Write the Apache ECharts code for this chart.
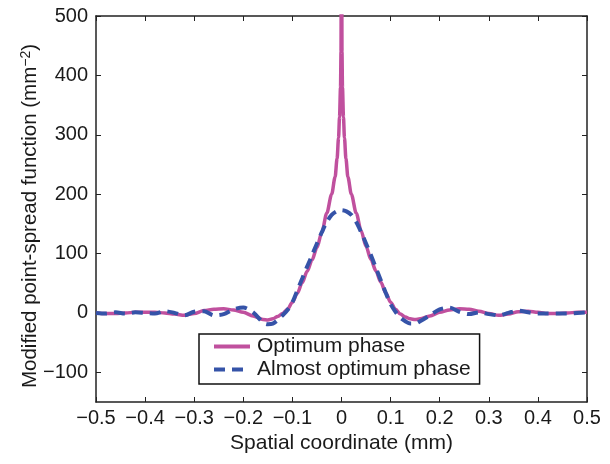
<!DOCTYPE html>
<html>
<head>
<meta charset="utf-8">
<script src="https://cdn.jsdelivr.net/npm/echarts@6/dist/echarts.min.js"></script>
<style>html,body{margin:0;padding:0;background:#fff;}#c{width:610px;height:464px;}</style>
</head>
<body>
<div id="c"></div>
<script>
// Optimum phase (solid magenta)
var xOpt = [-0.50,-0.48,-0.46,-0.44,-0.42,-0.40,-0.38,-0.36,-0.34,-0.32,-0.30,-0.28,-0.26,-0.24,-0.22,-0.20,-0.18,-0.16,-0.15,-0.14,-0.13,-0.12,-0.11,-0.10,-0.09,-0.08,-0.07,-0.06,-0.05,-0.04,-0.03,-0.02,-0.013,-0.009,-0.006,-0.004,-0.002,-0.001,0,
  0.001,0.002,0.004,0.006,0.009,0.013,0.02,0.03,0.04,0.05,0.06,0.07,0.08,0.09,0.10,0.11,0.12,0.13,0.14,0.15,0.16,0.18,0.20,0.22,0.24,0.26,0.28,0.30,0.32,0.34,0.36,0.38,0.40,0.42,0.44,0.46,0.48,0.50];
var yOpt = [0,-1,-1,0,1,1,1,0,-2,-4,-1,4,6,7,5,1,-5,-11,-12,-10,-6,-1,6,18,33,51,70,89,110,136,168,200,229,260,295,330,380,440,900,
  440,380,330,295,260,229,200,168,138,112,90,71,52,34,18,6,-2,-7,-10,-11,-10,-5,1,5,7,6,3,-1,-4,-2,2,3,1,-1,-1,0,1,1];
// Almost optimum phase (dashed blue)
var xAlm = [-0.50,-0.48,-0.46,-0.44,-0.42,-0.40,-0.38,-0.36,-0.34,-0.32,-0.30,-0.28,-0.26,-0.24,-0.22,-0.20,-0.18,-0.16,-0.15,-0.14,-0.13,-0.12,-0.11,-0.10,-0.09,-0.08,-0.07,-0.06,-0.05,-0.04,-0.03,-0.02,-0.01,0,
  0.01,0.02,0.03,0.04,0.05,0.06,0.07,0.08,0.09,0.10,0.11,0.12,0.13,0.14,0.15,0.16,0.18,0.20,0.22,0.24,0.26,0.28,0.30,0.32,0.34,0.36,0.38,0.40,0.42,0.44,0.46,0.48,0.50];
var yAlm = [0,-1,1,-1,1,0,-1,3,0,-4,2,3,-4,-2,6,9,1,-16,-19,-18,-12,-4,5,18,38,58,78,97,117,136,153,165,171,173,
  171,165,153,136,117,97,76,55,34,15,2,-8,-14,-18,-18,-14,-4,6,9,2,-2,1,-2,-4,0,4,1,-1,-1,-1,-1,0,1];
var seriesNames = ['Optimum phase', 'Almost optimum phase'];
var yTicks = [-100, 0, 100, 200, 300, 400, 500];

function pairs(xs, ys){ return xs.map(function(x,i){ return [x, ys[i]]; }); }
function fmtX(v){
  var r = Math.round(v*10)/10;
  if (Math.abs(r) < 1e-9) return '0';
  var s = Math.abs(r).toFixed(1);
  return (r < 0 ? '\u2212' : '') + s;
}
function fmtY(v){ return (v < 0 ? '\u2212' : '') + Math.abs(v); }

var FONT = 'Liberation Sans';
var axisCol = '#222';
var txtCol = '#1a1a1a';
var chart = echarts.init(document.getElementById('c'), null, {renderer:'canvas'});
chart.setOption({
  animation: false,
  backgroundColor: '#fff',
  textStyle: {fontFamily: FONT},
  grid: {left: 96, right: 23, top: 16, bottom: 62, containLabel: false},
  legend: {
    left: 199, top: 334, orient: 'vertical',
    backgroundColor: '#fff', borderColor: '#111', borderWidth: 1.5, borderRadius: 0,
    padding: [2, 9, 4, 13], itemGap: 2, itemWidth: 36, itemHeight: 14,
    itemStyle: {opacity: 0},
    lineStyle: {width: 4},
    textStyle: {fontFamily: FONT, fontSize: 21, color: txtCol, padding: [0,0,0,2]},
    data: seriesNames
  },
  xAxis: [{
    type: 'value', min: -0.5, max: 0.5, interval: 0.1, position: 'bottom',
    name: 'Spatial coordinate (mm)', nameLocation: 'middle', nameGap: 30,
    nameTextStyle: {fontFamily: FONT, fontSize: 21, color: txtCol},
    axisLine: {show: true, onZero: false, lineStyle: {color: axisCol, width: 1.5}},
    axisTick: {show: true, inside: true, length: 5, lineStyle: {color: axisCol, width: 1}},
    axisLabel: {formatter: fmtX, fontFamily: FONT, fontSize: 20, color: txtCol, margin: 6},
    splitLine: {show: false}
  },{
    type: 'value', min: -0.5, max: 0.5, interval: 0.1, position: 'top',
    axisLine: {show: true, onZero: false, lineStyle: {color: axisCol, width: 1.5}},
    axisTick: {show: true, inside: true, length: 5, lineStyle: {color: axisCol, width: 1}},
    axisLabel: {show: false}, splitLine: {show: false}
  }],
  yAxis: [{
    type: 'value', min: -150, max: 500, position: 'left',
    name: '{a|Modified point-spread function (mm}{s|\u22122}{a|)}', nameLocation: 'middle', nameGap: 66,
    nameMoveOverlap: false,
    nameTextStyle: {verticalAlign: 'middle', padding: [0, 14, 0, 0], rich: {
      a: {fontFamily: FONT, fontSize: 20.5, color: txtCol, lineHeight: 22},
      s: {fontFamily: FONT, fontSize: 14, color: txtCol, verticalAlign: 'top', lineHeight: 22}
    }},
    axisLine: {show: true, onZero: false, lineStyle: {color: axisCol, width: 1.5}},
    axisTick: {show: true, inside: true, length: 5, customValues: yTicks, lineStyle: {color: axisCol, width: 1}},
    axisLabel: {customValues: yTicks, formatter: fmtY, fontFamily: FONT, fontSize: 20, color: txtCol, margin: 8},
    splitLine: {show: false}
  },{
    type: 'value', min: -150, max: 500, position: 'right',
    axisLine: {show: true, onZero: false, lineStyle: {color: axisCol, width: 1.5}},
    axisTick: {show: true, inside: true, length: 5, customValues: yTicks, lineStyle: {color: axisCol, width: 1}},
    axisLabel: {show: false}, splitLine: {show: false}
  }],
  series: [{
    name: seriesNames[0], type: 'line', data: pairs(xOpt, yOpt), symbol: 'none',
    smooth: 0.3, smoothMonotone: 'x', clip: true,
    lineStyle: {color: '#C0509E', width: 3.5}, itemStyle: {color: '#C0509E'}, z: 2
  },{
    name: seriesNames[1], type: 'line', data: pairs(xAlm, yAlm), symbol: 'none',
    smooth: 0.3, clip: true,
    lineStyle: {color: '#3553A8', width: 4, type: [11, 7]}, itemStyle: {color: '#3553A8'}, z: 3
  }]
});
</script>
</body>
</html>
